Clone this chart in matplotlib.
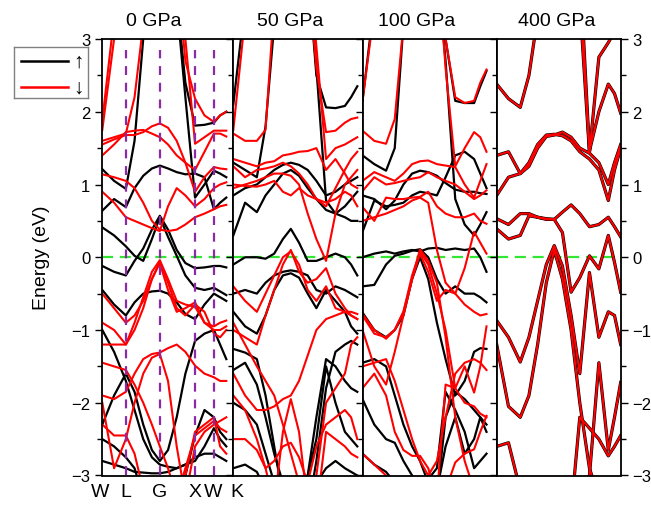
import matplotlib
matplotlib.use("Agg")
import matplotlib.pyplot as plt
from matplotlib.ticker import MultipleLocator

plt.rcParams["font.family"] = ["Liberation Sans", "DejaVu Sans"]

# k-path sample positions (fraction of W-L-G-X-W-K path)
K = [0, 0.095, 0.19, 0.26, 0.33, 0.40, 0.464, 0.53, 0.60, 0.67, 0.748, 0.824, 0.90, 0.95, 1.0]
K_NODES = [0.19, 0.464, 0.748, 0.90]          # L, G, X, W  (dashed guides, 0 GPa only)
K_LABELS = ["W", "L", "G", "X", "W", "K"]
PRESSURES = ["0 GPa", "50 GPa", "100 GPa", "400 GPa"]

# ---------- 0 GPa ----------
UP_0 = [
    [1.21, 1.05, 0.94, 1.6, 3.0, 4.5, 5.0, 4.5, 3.5, 2.2, 0.82, 1.0, 1.19, 1.15, 1.1],
    [0.64, 0.8, 0.69, 0.95, 1.12, 1.22, 1.26, 1.22, 1.17, 1.14, 1.15, 1.1, 0.66, 0.75, 0.82],
    [5, 5, 5, 5, 5, 5, 5, 5, 3.6, 2.4, 1.81, 1.82, 1.85, 1.95, 2.0],
    [-0.12, -0.2, -0.25, -0.05, 0.12, 0.38, 0.57, 0.38, 0.1, -0.08, -0.15, -0.14, -0.12, -0.12, -0.14],
    [0.41, 0.3, 0.15, 0.02, -0.05, 0.25, 0.55, 0.28, 0.02, -0.25, -0.42, -0.45, -0.42, -0.47, -0.52],
    [-0.45, -0.65, -0.8, -0.62, -0.5, -0.47, -0.46, -0.5, -0.62, -0.78, -0.85, -0.65, -0.5, -0.55, -0.6],
    [-2.3, -1.9, -1.6, -1.85, -2.3, -2.65, -2.8, -2.65, -2.2, -1.6, -1.15, -1.05, -1.0, -1.2, -1.4],
    [-1.0, -1.3, -1.7, -2.1, -2.5, -2.75, -2.85, -2.88, -2.9, -2.85, -2.8, -2.6, -2.35, -2.5, -2.6],
    [-2.8, -2.85, -2.9, -2.95, -2.96, -2.97, -2.97, -2.95, -2.9, -2.85, -2.75, -2.7, -2.7, -2.75, -2.8],
    [-2.5, -2.6, -2.75, -2.9, -3.3, -3.5, -3.5, -3.5, -3.4, -3.0, -2.45, -2.1, -2.2, -2.4, -2.5],
]
DN_0 = [
    [1.88, 3.3, 5, 5, 5, 5, 5, 5, 4.0, 2.7, 2.18, 1.95, 1.86, 1.95, 2.0],
    [1.75, 3.0, 4.5, 5, 5, 5, 5, 5, 4.2, 3.0, 1.56, 1.65, 1.74, 1.74, 1.74],
    [1.6, 1.65, 1.7, 2.2, 3.2, 5, 5, 5, 5, 5, 5, 5, 5, 5, 5],
    [1.55, 1.62, 1.68, 1.68, 1.72, 1.8, 1.84, 1.78, 1.6, 1.3, 0.9, 1.1, 1.24, 1.22, 1.21],
    [1.4, 1.55, 1.72, 1.74, 1.75, 1.7, 1.65, 1.55, 1.4, 1.3, 1.2, 1.45, 1.7, 1.7, 1.66],
    [1.14, 1.1, 1.05, 0.95, 0.75, 0.5, 0.38, 0.36, 0.38, 0.45, 0.55, 0.6, 0.66, 0.7, 0.72],
    [0.9, 0.75, 0.55, 0.5, 0.45, 0.4, 0.36, 0.7, 0.95, 0.85, 0.7, 0.8, 0.95, 1.0, 1.03],
    [-1.2, -1.2, -1.2, -0.9, -0.55, -0.2, -0.04, -0.3, -0.6, -0.65, -0.68, -0.9, -1.0, -1.0, -0.95],
    [-0.9, -1.0, -1.2, -1.0, -0.7, -0.3, -0.06, -0.35, -0.7, -0.8, -0.65, -0.75, -1.05, -1.1, -1.0],
    [-1.9, -1.95, -1.85, -1.6, -1.4, -1.33, -1.31, -1.25, -1.2, -1.3, -1.49, -1.6, -1.65, -1.7, -1.7],
    [-2.0, -2.9, -2.5, -2.0, -1.6, -1.38, -1.33, -1.7, -2.6, -3.3, -2.6, -2.4, -2.3, -2.25, -2.2],
    [-2.3, -2.45, -2.45, -2.7, -3.2, -3.5, -3.5, -3.5, -3.3, -2.9, -2.45, -2.35, -2.25, -2.35, -2.4],
    [-1.45, -1.5, -1.55, -1.75, -2.0, -2.3, -2.6, -2.9, -3.3, -3.0, -2.4, -2.3, -2.2, -2.6, -2.7],
    [-0.5, -0.7, -0.9, -0.8, -0.6, -0.3, -0.08, -0.45, -0.75, -0.7, -0.62, -0.9, -0.95, -0.9, -0.87],
]

# ---------- 50 GPa ----------
UP_50 = [
    [2.1, 3.5, 5, 5, 5, 5, 5, 5, 4, 2.5, 2.06, 2.05, 2.08, 2.2, 2.35],
    [1.3, 1.2, 1.1, 1.8, 3.2, 5, 5, 5, 4, 2.6, 0.78, 0.6, 0.55, 0.5, 0.5],
    [0.85, 0.95, 1.0, 1.1, 1.2, 1.27, 1.3, 1.27, 1.2, 1.05, 0.85, 0.9, 1.0, 1.05, 1.1],
    [0.3, 0.75, 0.62, 0.85, 1.0, 1.15, 1.2, 1.12, 0.95, 0.8, 0.65, 0.6, 0.7, 0.8, 0.9],
    [-0.1, 0.0, 0.0, -0.02, 0.05, 0.25, 0.39, 0.2, -0.05, -0.05, 0.0, 0.05, 0.0, -0.1, -0.25],
    [-0.5, -0.45, -0.5, -0.35, -0.25, -0.2, -0.18, -0.2, -0.25, -0.45, -0.5, -0.4, -0.45, -0.5, -0.55],
    [-0.75, -0.95, -1.05, -0.8, -0.45, -0.25, -0.22, -0.28, -0.5, -0.7, -0.45, -0.6, -0.75, -0.95, -1.05],
    [-1.55, -1.45, -1.75, -2.2, -2.7, -3.1, -3.3, -3.3, -3.0, -2.2, -1.4, -1.5, -1.7, -1.8, -1.85],
    [-2.0, -2.1, -2.3, -2.7, -3.1, -3.3, -3.3, -3.2, -3.0, -2.5, -1.5, -2.0, -2.4, -2.5, -2.6],
    [-2.9, -2.85, -2.95, -3.2, -3.4, -3.5, -3.5, -3.4, -3.3, -3.1, -2.9, -2.8, -2.9, -2.95, -3.0],
    [-1.26, -1.31, -1.4, -1.9, -2.6, -3.3, -3.5, -3.5, -3.5, -2.8, -1.8, -1.3, -1.2, -1.15, -1.2],
]
DN_50 = [
    [1.75, 3.3, 5, 5, 5, 5, 5, 5, 4, 2.6, 1.72, 1.74, 1.85, 1.9, 1.92],
    [1.7, 1.6, 1.6, 1.75, 3.5, 5, 5, 5, 4.2, 2.9, 1.35, 1.5, 1.55, 1.6, 1.65],
    [1.35, 1.3, 1.25, 1.3, 1.32, 1.4, 1.42, 1.45, 1.46, 1.5, 1.2, 1.35, 1.15, 1.0, 0.95],
    [1.25, 1.1, 1.2, 1.22, 1.25, 1.3, 1.25, 1.15, 1.0, 0.8, 0.7, 0.95, 1.2, 1.35, 1.45],
    [1.0, 0.98, 0.97, 1.0, 1.05, 0.9, 0.85, 0.95, 0.85, 0.8, 0.75, 0.8, 0.9, 0.85, 0.7],
    [0.95, 1.0, 1.05, 1.1, 1.15, 1.15, 1.12, 1.0, 0.6, 0.25, -0.05, 0.6, 1.0, 1.1, 1.2],
    [-1.0, -1.1, -1.2, -0.8, -0.45, -0.1, 0.1, -0.2, -0.35, -0.3, -0.15, -0.5, -0.7, -0.8, -0.85],
    [-0.4, -0.6, -0.75, -0.5, -0.25, 0.0, 0.08, -0.1, -0.45, -0.6, -0.4, -0.7, -0.75, -0.8, -0.85],
    [-1.6, -1.9, -2.1, -2.1, -2.05, -1.95, -1.9, -1.7, -1.35, -1.0, -0.85, -0.8, -0.75, -0.75, -0.78],
    [-1.9, -2.1, -2.5, -2.9, -3.4, -2.4, -1.95, -2.4, -3.4, -3.5, -2.4, -2.5, -2.6, -2.7, -2.75],
    [-2.5, -2.5, -2.65, -2.9, -2.8, -2.6, -2.55, -2.75, -3.1, -2.6, -2.3, -2.2, -2.1, -2.2, -2.5],
    [-0.9, -1.2, -1.5, -1.7, -1.9, -2.3, -2.7, -3.1, -3.5, -3.0, -2.0, -1.8, -1.6, -1.2, -1.1],
]

# ---------- 100 GPa ----------
UP_100 = [
    [2.15, 3.5, 5, 5, 5, 5, 5, 5, 4, 3.0, 2.15, 2.12, 2.12, 2.35, 2.56],
    [1.4, 1.28, 1.19, 1.5, 3.2, 5, 5, 5, 4, 2.7, 0.8, 0.45, 0.3, 0.45, 0.62],
    [0.85, 0.8, 0.66, 0.78, 1.0, 1.15, 1.19, 1.17, 1.12, 1.02, 0.93, 0.9, 0.9, 0.88, 0.87],
    [0.35, 0.78, 0.7, 0.72, 0.75, 0.85, 0.9, 0.88, 0.85, 1.1, 1.4, 1.45, 1.35, 1.15, 0.95],
    [0.0, 0.05, 0.08, 0.05, 0.08, 0.1, 0.08, 0.12, 0.13, 0.1, 0.12, 0.1, 0.12, 0.0, -0.2],
    [-0.4, -0.38, -0.1, 0.02, 0.05, 0.09, 0.11, 0.0, -0.3, -0.5, -0.4, -0.5, -0.5, -0.55, -0.62],
    [-0.76, -1.0, -1.1, -1.0, -0.8, -0.3, 0.0, -0.3, -0.9, -1.4, -1.9, -1.7, -1.3, -1.25, -1.26],
    [-1.95, -2.3, -2.5, -2.55, -2.8, -3.0, -3.1, -3.05, -2.9, -1.85, -2.1, -2.4, -2.9, -2.8, -2.7],
    [-2.7, -2.85, -2.95, -3.1, -3.3, -3.4, -3.4, -3.3, -3.2, -2.6, -2.2, -2.7, -2.5, -2.2, -2.4],
    [-1.45, -1.4, -1.5, -1.9, -2.3, -2.6, -2.8, -3.1, -3.3, -2.2, -1.85, -1.95, -2.1, -2.2, -2.3],
]
DN_100 = [
    [2.15, 3.4, 5, 5, 5, 5, 5, 5, 4, 3.0, 2.2, 2.12, 2.15, 2.4, 2.58],
    [1.74, 1.6, 1.56, 1.9, 3.2, 5, 5, 5, 4.2, 2.6, 1.25, 1.5, 1.72, 1.65, 1.45],
    [1.05, 1.17, 1.1, 1.05, 1.15, 1.28, 1.32, 1.33, 1.28, 1.26, 1.24, 1.0, 0.82, 1.05, 1.28],
    [0.91, 1.1, 1.0, 1.02, 1.05, 1.08, 1.1, 1.17, 1.1, 1.05, 1.0, 0.9, 0.8, 0.85, 0.92],
    [0.69, 0.5, 0.82, 0.8, 0.8, 0.82, 0.83, 0.9, 0.7, 0.6, 0.55, 0.55, 0.6, 0.5, 0.46],
    [0.5, 0.55, 0.6, 0.65, 0.7, 0.78, 0.82, 0.75, 0.1, -0.35, -0.5, -0.15, 0.35, 0.2, 0.05],
    [-1.0, -1.5, -1.75, -1.3, -0.8, -0.3, 0.11, -0.05, -0.35, -1.1, -2.2, -2.8, -3.2, -3.3, -3.3],
    [-0.8, -1.05, -1.1, -1.0, -0.75, -0.25, 0.08, -0.1, -0.5, -1.0, -1.8, -1.5, -1.86, -1.5, -0.95],
    [-1.8, -1.6, -1.9, -2.4, -2.65, -2.73, -2.73, -2.9, -3.3, -1.75, -1.8, -2.0, -2.05, -2.15, -2.2],
    [-0.78, -1.0, -1.12, -1.0, -0.75, -0.3, 0.05, -0.2, -0.6, -0.45, -0.5, -0.65, -0.75, -0.8, -0.78],
    [-2.7, -2.85, -3.0, -3.3, -3.5, -3.5, -3.5, -3.5, -3.5, -3.2, -2.82, -2.7, -2.64, -2.4, -2.18],
    [-1.5, -1.45, -1.4, -1.7, -2.1, -2.5, -2.8, -3.0, -2.8, -2.2, -1.6, -1.45, -1.4, -1.45, -1.55],
]

# ---------- 400 GPa (both spins nearly coincide) ----------
UP_400 = [
    [2.38, 2.18, 2.06, 2.5, 3.3, 5, 5, 5, 5, 3.5, 1.44, 2.75, 2.95, 3.1, 3.3],
    [5, 5, 5, 5, 5, 5, 5, 5, 5, 4, 1.46, 2.0, 2.38, 2.25, 1.98],
    [0.85, 1.1, 1.15, 1.3, 1.55, 1.68, 1.69, 1.67, 1.6, 1.45, 1.35, 1.2, 0.78, 1.2, 1.5],
    [1.4, 1.45, 1.15, 1.25, 1.5, 1.66, 1.68, 1.72, 1.65, 1.5, 1.43, 1.3, 1.0, 1.3, 1.55],
    [0.53, 0.45, 0.6, 0.6, 0.55, 0.52, 0.52, 0.62, 0.72, 0.6, 0.42, 0.45, 0.55, 0.42, 0.28],
    [0.39, 0.25, 0.3, 0.57, 0.55, 0.53, 0.52, 0.34, -0.48, -0.28, 0.02, -0.16, 0.3, -0.07, -0.48],
    [-0.87, -1.1, -1.44, -1.1, -0.6, -0.1, 0.16, -0.12, -0.8, -1.6, -0.21, -1.1, -0.75, -0.8, -1.2],
    [-1.2, -2.05, -2.2, -1.9, -1.2, -0.35, 0.1, -0.3, -1.0, -2.0, -2.9, -3.3, -3.3, -3.3, -3.3],
    [-2.6, -2.55, -3.2, -3.5, -3.5, -3.5, -3.5, -3.5, -3.5, -2.2, -2.35, -2.5, -2.73, -2.6, -2.45],
    [-3.5, -3.5, -3.5, -3.5, -3.5, -3.5, -3.5, -3.5, -3.5, -3.5, -3.0, -1.45, -2.65, -2.2, -1.72],
]
DN_400 = UP_400

BANDS_UP = [UP_0, UP_50, UP_100, UP_400]
BANDS_DN = [DN_0, DN_50, DN_100, DN_400]

# layout (pixels of the 651x506 reference)
W, H = 651, 506
PANEL_PX = [(102.3, 233.3), (233.3, 362.5), (362.5, 496.7), (496.7, 620.7)]
PATH_PX = 124.0
Y_TOP, Y_BOT = 40.0, 476.5
TITLE_X = [154, 290, 417, 557]
LABEL_X = [100, 126, 160, 195, 213.5, 236.5]

fig = plt.figure(figsize=(W / 100, H / 100), dpi=100)
for i, (x0, x1) in enumerate(PANEL_PX):
    ax = fig.add_axes([x0 / W, 1 - Y_BOT / H, (x1 - x0) / W, (Y_BOT - Y_TOP) / H])
    ax.set_xlim(0, (x1 - x0) / PATH_PX)
    ax.set_ylim(-3, 3)
    ax.axhline(0, color="#33e633", lw=1.6, ls=(0, (5, 3)), zorder=1)
    lw_up = 2.3 if i == 3 else 1.6
    for b in BANDS_UP[i]:
        ax.plot(K, b, color="black", lw=lw_up, zorder=2, solid_joinstyle="round")
    for b in BANDS_DN[i]:
        ax.plot(K, b, color="red", lw=1.5, zorder=2.5, solid_joinstyle="round")
    if i == 0:
        ax.vlines(K_NODES, -3, 2.85, color="#8b2aa6", lw=1.6, ls=(0, (4, 3.5)), zorder=3)
    ax.set_xticks([])
    ax.yaxis.set_major_locator(MultipleLocator(1))
    ax.yaxis.set_minor_locator(MultipleLocator(0.5))
    ax.tick_params(axis="y", which="major", direction="out", length=5, width=1, labelsize=12)
    ax.tick_params(axis="y", which="minor", direction="out", length=3.5, width=1)
    if i > 0:
        ax.tick_params(axis="y", which="both", labelleft=False)
    if i == 3:
        ax.tick_params(axis="y", which="both", right=True, labelright=True)
    for s in ax.spines.values():
        s.set_linewidth(1.3)
    fig.text(TITLE_X[i] / W, 1 - 21.5 / H, PRESSURES[i], ha="center", va="center", fontsize=14)

for lab, x in zip(K_LABELS, LABEL_X):
    fig.text(x / W, 1 - 493 / H, lab, ha="center", va="center", fontsize=14)
fig.text(42 / W, 1 - 258 / H, "Energy (eV)", rotation=90, ha="center", va="center", fontsize=14)

# spin legend
lg = fig.add_axes([14 / W, 1 - 99 / H, 74 / W, 51 / H])
lg.set_xlim(0, 1); lg.set_ylim(0, 1)
lg.set_xticks([]); lg.set_yticks([])
for s in lg.spines.values():
    s.set_edgecolor("#808080"); s.set_linewidth(1)
lg.plot([0.095, 0.73], [0.725, 0.725], color="black", lw=1.8)
lg.plot([0.095, 0.73], [0.216, 0.216], color="red", lw=1.8)
lg.text(0.865, 0.725, "↑", ha="center", va="center", fontsize=15)
lg.text(0.865, 0.216, "↓", ha="center", va="center", fontsize=15)

fig.savefig("out.png", dpi=100)
